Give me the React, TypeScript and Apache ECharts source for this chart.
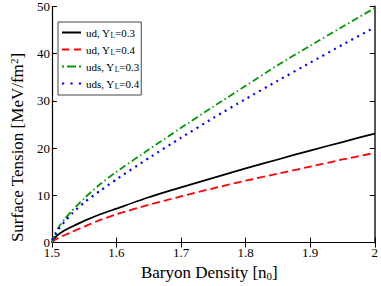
import React, { useEffect, useRef } from "react";
import * as echarts from "echarts";

const density = [1.5, 1.505, 1.51, 1.52, 1.53, 1.55, 1.575, 1.6, 1.65, 1.7, 1.75, 1.8, 1.85, 1.9, 1.95, 2.0];
const udYL03 = [0, 1.1, 1.7, 2.6, 3.3, 4.6, 6.0, 7.2, 9.6, 11.7, 13.7, 15.7, 17.6, 19.5, 21.3, 23.1];
const udYL04 = [0, 0.6, 1.0, 1.6, 2.2, 3.4, 4.8, 6.0, 8.0, 9.8, 11.5, 13.1, 14.6, 16.1, 17.6, 19.0];
const udsYL03 = [0, 2.0, 3.2, 5.0, 6.6, 9.4, 12.4, 15.0, 19.7, 24.3, 28.8, 33.2, 37.6, 41.7, 45.7, 49.7];
const udsYL04 = [0.5, 1.6, 2.8, 4.5, 6.0, 8.5, 11.0, 13.4, 17.9, 22.2, 26.4, 30.4, 34.3, 38.1, 41.9, 45.6];

const seriesNames = ["ud, Y_L=0.3", "ud, Y_L=0.4", "uds, Y_L=0.3", "uds, Y_L=0.4"];
const xMin = 1.5;
const xMax = 2;
const xStep = 0.1;
const yMin = 0;
const yMax = 50;
const yStep = 10;

const FONT = "'Liberation Serif', 'Times New Roman', 'DejaVu Serif', serif";

// legend line samples (solid, dashed, dash-dot, dotted)
const legendIcons = [
  "path://M0,0h19v2h-19z",
  "path://M0,0h7v2h-7z M12,0h7v2h-7z",
  "path://M0,0h2v2h-2z M5,0h9v2h-9z M17,0h2v2h-2z",
  "path://M0,0h2.2v2h-2.2z M8.4,0h2.2v2h-2.2z M16.8,0h2.2v2h-2.2z",
];

function pairs(vals: number[]) {
  return density.map((d, i) => [d, vals[i]]);
}

export default function App() {
  const ref = useRef<HTMLDivElement>(null);
  useEffect(() => {
    if (!ref.current) return;
    const chart = echarts.init(ref.current, undefined, { renderer: "svg" });
    const axisLine = { show: true, lineStyle: { color: "#000", width: 1.2 } };
    const tickIn = { show: true, inside: true, length: 5, lineStyle: { color: "#000", width: 1 } };
    const styles = [
      { color: "#000000", type: "solid" as any, width: 1.8 },
      { color: "#ff0000", type: [8, 4] as any, width: 1.8 },
      { color: "#009900", type: [7, 3, 1.5, 3] as any, width: 1.8 },
      { color: "#0000ff", type: [2, 4.6] as any, width: 2.2 },
    ];
    const datas = [udYL03, udYL04, udsYL03, udsYL04];
    chart.setOption({
      animation: false,
      backgroundColor: "#fff",
      textStyle: { fontFamily: FONT },
      grid: { left: 40, right: 3, top: 5, bottom: 36, containLabel: false },
      legend: {
        orient: "vertical",
        left: 58,
        top: 22,
        padding: [5, 2, 5, 4],
        backgroundColor: "#fff",
        borderColor: "#444",
        borderWidth: 1,
        itemWidth: 19,
        itemHeight: 2,
        itemGap: 5,
        data: seriesNames.map((name, i) => ({ name, icon: legendIcons[i] })),
        formatter: (name: string) => name.replace("Y_L", "Y{sub|L}"),
        textStyle: {
          fontFamily: FONT,
          fontSize: 11,
          color: "#000",
          rich: {
            sub: { fontFamily: FONT, fontSize: 7.5, color: "#000", padding: [5, 0, 0, 0] },
          },
        },
      },
      xAxis: [
        {
          type: "value",
          min: xMin,
          max: xMax,
          interval: xStep,
          position: "bottom",
          axisLine,
          axisTick: tickIn,
          splitLine: { show: false },
          axisLabel: { color: "#000", fontSize: 13, fontFamily: FONT, margin: 3 },
          name: "Baryon Density [n{sub|0}]",
          nameLocation: "middle",
          nameGap: 17,
          nameTextStyle: {
            color: "#000",
            fontSize: 17,
            fontFamily: FONT,
            padding: [0, 8, 0, 0],
            rich: { sub: { fontSize: 11, fontFamily: FONT, color: "#000", padding: [7, 0, 0, 0] } },
          },
        },
        {
          type: "value",
          min: xMin,
          max: xMax,
          interval: xStep,
          position: "top",
          axisLine,
          axisTick: tickIn,
          splitLine: { show: false },
          axisLabel: { show: false },
        },
      ],
      yAxis: [
        {
          type: "value",
          min: yMin,
          max: yMax,
          interval: yStep,
          position: "left",
          axisLine,
          axisTick: tickIn,
          splitLine: { show: false },
          axisLabel: { color: "#000", fontSize: 13, fontFamily: FONT, margin: 2 },
          name: "Surface Tension [MeV/fm{sup|2}]{sp| }",
          nameLocation: "middle",
          nameGap: 22,
          nameTextStyle: {
            color: "#000",
            fontSize: 17,
            fontFamily: FONT,
            rich: {
              sup: { fontSize: 11, fontFamily: FONT, color: "#000", padding: [0, 0, 8, 0] },
              sp: { width: 46, fontSize: 17 },
            },
          },
        },
        {
          type: "value",
          min: yMin,
          max: yMax,
          interval: yStep,
          position: "right",
          axisLine: { show: true, lineStyle: { color: "#555", width: 2 } },
          axisTick: tickIn,
          splitLine: { show: false },
          axisLabel: { show: false },
        },
      ],
      series: seriesNames.map((name, i) => ({
        name,
        type: "line",
        xAxisIndex: 0,
        yAxisIndex: 0,
        data: pairs(datas[i]),
        showSymbol: false,
        symbol: "none",
        smooth: 0.2,
        lineStyle: styles[i],
        itemStyle: { color: styles[i].color },
      })),
    });
    return () => chart.dispose();
  }, []);
  return (
    <div
      ref={ref}
      style={{ position: "absolute", left: 0, top: 0, width: 381, height: 286 }}
    />
  );
}
